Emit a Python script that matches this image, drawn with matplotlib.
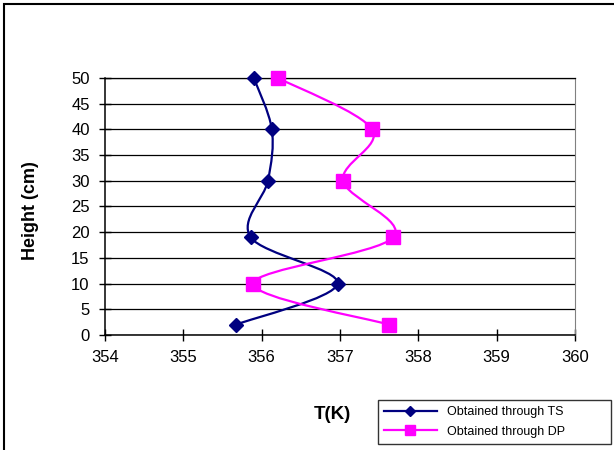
import matplotlib
matplotlib.use('Agg')
import matplotlib.pyplot as plt
import numpy as np
from matplotlib.path import Path
from matplotlib.patches import PathPatch, Rectangle
from matplotlib.lines import Line2D

plt.rcParams['font.family'] = ['Liberation Sans', 'DejaVu Sans']

# Data
height = [50, 40, 30, 19, 10, 2]
t_ts = [355.90, 356.13, 356.08, 355.86, 356.97, 355.67]
t_dp = [356.21, 357.41, 357.04, 357.68, 355.89, 357.63]
series_labels = ['Obtained through TS', 'Obtained through DP']


def smooth_path(xs, ys):
    # Excel-like smoothed line: cubic Bezier through every point
    p = np.column_stack([xs, ys]).astype(float)
    n = len(p)
    verts = [p[0]]
    codes = [Path.MOVETO]
    for i in range(n - 1):
        p0 = p[i - 1] if i > 0 else p[i]
        p3 = p[i + 2] if i + 2 < n else p[i + 1]
        c1 = p[i] + (p[i + 1] - p0) / 6.0
        c2 = p[i + 1] - (p3 - p[i]) / 6.0
        verts += [c1, c2, p[i + 1]]
        codes += [Path.CURVE4] * 3
    return Path(verts, codes)


fig = plt.figure(figsize=(6.14, 4.5), dpi=100)
ax = fig.add_axes([0.171, 0.2556, 0.7655, 0.5711])

ts_color = '#000080'
dp_color = '#FF00FF'

ax.add_patch(PathPatch(smooth_path(t_ts, height), fill=False,
                       edgecolor=ts_color, lw=1.6, zorder=3))
ax.add_patch(PathPatch(smooth_path(t_dp, height), fill=False,
                       edgecolor=dp_color, lw=1.6, zorder=3))
ax.plot(t_ts, height, ls='none', marker='D', ms=6.8, color=ts_color,
        zorder=4, clip_on=False)
ax.plot(t_dp, height, ls='none', marker='s', ms=10.5, color=dp_color,
        zorder=4, clip_on=False)

ax.set_xlim(354, 360)
ax.set_ylim(0, 50)
ax.set_xticks(np.arange(354, 361, 1))
ax.set_yticks(np.arange(0, 51, 5))
ax.yaxis.grid(True, color='black', lw=0.9)
ax.set_axisbelow(True)
ax.tick_params(direction='inout', length=8, width=1, labelsize=12,
               colors='black', pad=7)
for s in ['left', 'bottom']:
    ax.spines[s].set_color('black')
    ax.spines[s].set_linewidth(1.1)
ax.spines['top'].set_color('black')
ax.spines['top'].set_linewidth(0.9)
ax.spines['right'].set_color('#808080')

fig.text(0.049, 0.532, 'Height (cm)', fontsize=13, fontweight='bold',
         rotation=90, ha='center', va='center')
fig.text(0.541, 0.078, 'T(K)', fontsize=13.5, fontweight='bold',
         ha='center', va='center')

handles = [Line2D([], [], color=ts_color, lw=1.6, marker='D', ms=5),
           Line2D([], [], color=dp_color, lw=1.6, marker='s', ms=7)]
leg = fig.legend(handles, series_labels, loc='lower left',
                 bbox_to_anchor=(0.6156, 0.0133, 0.3795, 0.12),
                 mode='expand', fontsize=9, frameon=True, fancybox=False,
                 handlelength=4.2, borderaxespad=0, labelspacing=0.6,
                 borderpad=0.5)
leg.get_frame().set_edgecolor('black')
leg.get_frame().set_linewidth(1.0)

# outer chart frame (only left and top edges visible in the crop)
fig.add_artist(Rectangle((4 / 614, -0.1), 2.0, 1.1 - 4 / 450,
                         transform=fig.transFigure, fill=False,
                         edgecolor='black', lw=1.5))

fig.savefig('out.png', dpi=100)
